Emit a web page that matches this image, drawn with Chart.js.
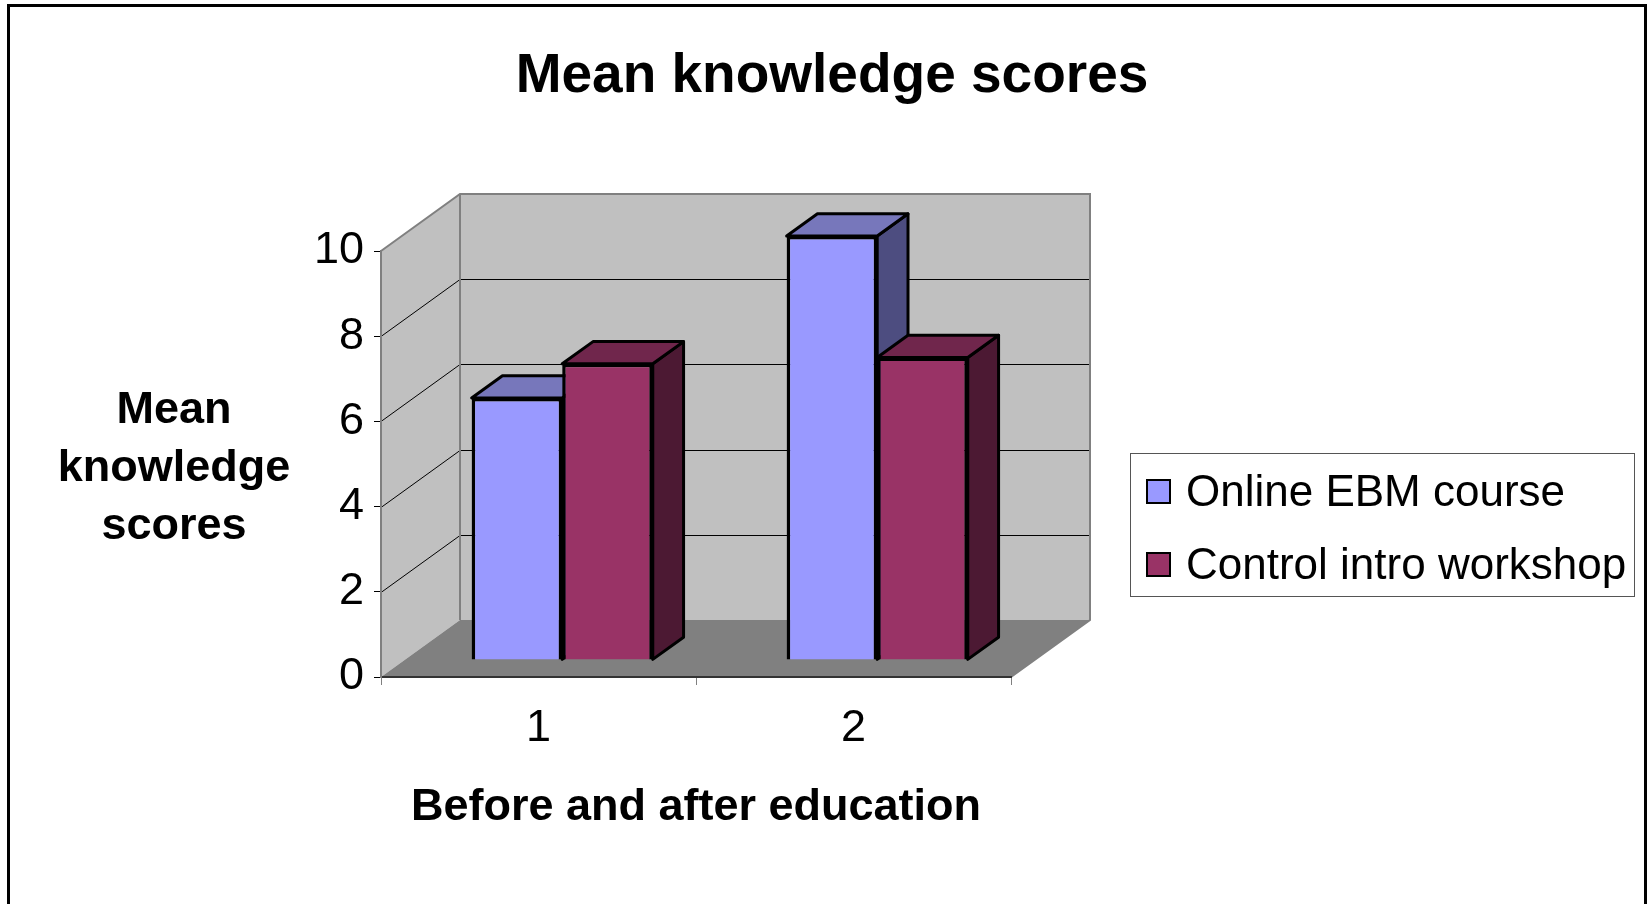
<!DOCTYPE html>
<html>
<head>
<meta charset="utf-8">
<title>Mean knowledge scores</title>
<script src="https://cdn.jsdelivr.net/npm/chart.js@4.4.1/dist/chart.umd.min.js"></script>
<style>
  html, body { margin: 0; padding: 0; background: #fff; }
  #wrap { width: 1651px; height: 904px; }
</style>
</head>
<body>
<div id="wrap"><canvas id="chart" width="1651" height="904"></canvas></div>
<script>
const CATEGORIES = ['1', '2'];
const SERIES_NAMES = ['Online EBM course', 'Control intro workshop'];
const ONLINE_SCORES = [6.15, 9.95];
const CONTROL_SCORES = [6.95, 7.1];
const Y_TICKS = [0, 2, 4, 6, 8, 10];
const Y_TITLE = ['Mean', 'knowledge', 'scores'];

const FRONT = ['#9999FF', '#993366'];
const TOP = ['#7777BB', '#70264C'];
const SIDE = ['#4D4D80', '#4C1933'];
const FONT = '"Liberation Sans", Arial, sans-serif';

// how far the back wall sits behind the axes, and where the bars sit in that depth
const DEPTH = { dx: 79, dy: -57 };
const BAR_POS = 0.3;
const BAR_DEPTH = 0.39;

Chart.defaults.font.family = FONT;
Chart.defaults.color = '#000';

function poly(ctx, pts) {
  ctx.beginPath();
  pts.forEach(([px, py], k) => (k ? ctx.lineTo(px, py) : ctx.moveTo(px, py)));
  ctx.closePath();
}

function drawFaces(ctx, meta, i) {
  const bdx = DEPTH.dx * BAR_DEPTH;
  const bdy = DEPTH.dy * BAR_DEPTH;
  ctx.lineWidth = 3;
  ctx.strokeStyle = '#000';
  ctx.lineJoin = 'round';
  meta.data.forEach((bar) => {
    const { x, y, base, width } = bar.getProps(['x', 'y', 'base', 'width'], true);
    const l = x - width / 2;
    const r = x + width / 2;
    ctx.fillStyle = SIDE[i];
    poly(ctx, [[r, y], [r + bdx, y + bdy], [r + bdx, base + bdy], [r, base]]);
    ctx.fill();
    ctx.stroke();
    ctx.fillStyle = TOP[i];
    poly(ctx, [[l, y], [r, y], [r + bdx, y + bdy], [l + bdx, y + bdy]]);
    ctx.fill();
    ctx.stroke();
  });
}

const box3d = {
  id: 'box3d',
  beforeDraw(chart) {
    const { ctx, chartArea: a, scales: { y } } = chart;
    const { dx, dy } = DEPTH;
    ctx.save();
    ctx.fillStyle = '#C0C0C0';
    poly(ctx, [[a.left, a.bottom], [a.left, a.top], [a.left + dx, a.top + dy], [a.left + dx, a.bottom + dy]]);
    ctx.fill();
    ctx.fillRect(a.left + dx, a.top + dy, a.right - a.left, a.bottom - a.top);
    ctx.fillStyle = '#808080';
    poly(ctx, [[a.left, a.bottom], [a.right, a.bottom], [a.right + dx, a.bottom + dy], [a.left + dx, a.bottom + dy]]);
    ctx.fill();

    ctx.strokeStyle = '#000';
    ctx.lineWidth = 1;
    Y_TICKS.slice(1, -1).forEach((v) => {
      const py = Math.round(y.getPixelForValue(v)) + 0.5;
      ctx.beginPath();
      ctx.moveTo(a.left, py);
      ctx.lineTo(a.left + dx, py + dy);
      ctx.lineTo(a.right + dx, py + dy);
      ctx.stroke();
    });

    ctx.strokeStyle = '#808080';
    ctx.lineWidth = 2;
    ctx.beginPath();
    ctx.moveTo(a.left, a.top);
    ctx.lineTo(a.left + dx, a.top + dy);
    ctx.lineTo(a.right + dx, a.top + dy);
    ctx.lineTo(a.right + dx, a.bottom + dy);
    ctx.lineTo(a.right, a.bottom);
    ctx.moveTo(a.left + dx, a.top + dy);
    ctx.lineTo(a.left + dx, a.bottom + dy);
    ctx.stroke();
    ctx.restore();
  },
  // draw series left to right so the right-hand bar covers its neighbour's side face
  beforeDatasetsDraw(chart) {
    const { ctx } = chart;
    chart.getSortedVisibleDatasetMetas().forEach((meta) => {
      ctx.save();
      ctx.translate(DEPTH.dx * BAR_POS, DEPTH.dy * BAR_POS);
      meta.controller.draw();
      drawFaces(ctx, meta, meta.index);
      ctx.restore();
    });
    return false;
  },
  afterDraw(chart) {
    const { ctx } = chart;
    ctx.save();
    ctx.fillStyle = '#000';
    ctx.font = 'bold 45px ' + FONT;
    ctx.textAlign = 'center';
    ctx.textBaseline = 'middle';
    Y_TITLE.forEach((line, k) => ctx.fillText(line, 174, 411 + k * 58));

    // legend
    ctx.strokeStyle = '#555';
    ctx.lineWidth = 1;
    ctx.strokeRect(1130.5, 453.5, 504, 143);
    ctx.font = '44px ' + FONT;
    ctx.textAlign = 'left';
    chart.data.datasets.forEach((ds, k) => {
      const cy = 494 + k * 73;
      ctx.fillStyle = ds.backgroundColor;
      ctx.fillRect(1147, cy - 14, 23, 23);
      ctx.strokeStyle = '#000';
      ctx.lineWidth = 2;
      ctx.strokeRect(1147, cy - 14, 23, 23);
      ctx.fillStyle = '#000';
      ctx.fillText(ds.label, 1186, cy);
    });

    ctx.strokeStyle = '#000';
    ctx.lineWidth = 3;
    ctx.strokeRect(8.5, 5.5, 1637, 960);
    ctx.restore();
  },
};

new Chart(document.getElementById('chart'), {
  type: 'bar',
  data: {
    labels: CATEGORIES,
    datasets: [
      { label: SERIES_NAMES[0], data: ONLINE_SCORES, backgroundColor: FRONT[0], borderColor: '#000', borderWidth: 3.5, clip: false },
      { label: SERIES_NAMES[1], data: CONTROL_SCORES, backgroundColor: FRONT[1], borderColor: '#000', borderWidth: 3.5, clip: false },
    ],
  },
  plugins: [box3d],
  options: {
    responsive: false,
    animation: false,
    layout: { padding: { left: 13, right: 0, top: 0, bottom: 0 } },
    datasets: { bar: { categoryPercentage: 0.575, barPercentage: 1 } },
    plugins: {
      legend: { display: false },
      tooltip: { enabled: false },
      title: {
        display: true,
        text: 'Mean knowledge scores',
        color: '#000',
        font: { size: 55, weight: 'bold' },
        padding: { top: 44, bottom: 141 },
      },
    },
    scales: {
      x: {
        grid: { display: true, drawOnChartArea: false, tickLength: 8, color: '#808080' },
        border: { color: '#333', width: 2 },
        ticks: { color: '#000', font: { size: 45 }, padding: 17 },
        title: {
          display: true,
          text: 'Before and after education',
          color: '#000',
          font: { size: 45, weight: 'bold' },
          padding: { top: 0, bottom: 69 },
        },
        afterFit: (s) => { s.height = 227; },
      },
      y: {
        min: 0,
        max: 10,
        ticks: { stepSize: 2, color: '#000', font: { size: 45 }, padding: 10 },
        grid: { drawOnChartArea: false, tickLength: 7, color: '#000' },
        border: { color: '#808080', width: 2 },
        afterFit: (s) => { s.width = 368; },
      },
      gap: {
        type: 'linear',
        position: 'right',
        display: true,
        grid: { display: false },
        border: { display: false },
        ticks: { display: false },
        afterFit: (s) => { s.width = 640; },
      },
    },
  },
});
</script>
</body>
</html>
